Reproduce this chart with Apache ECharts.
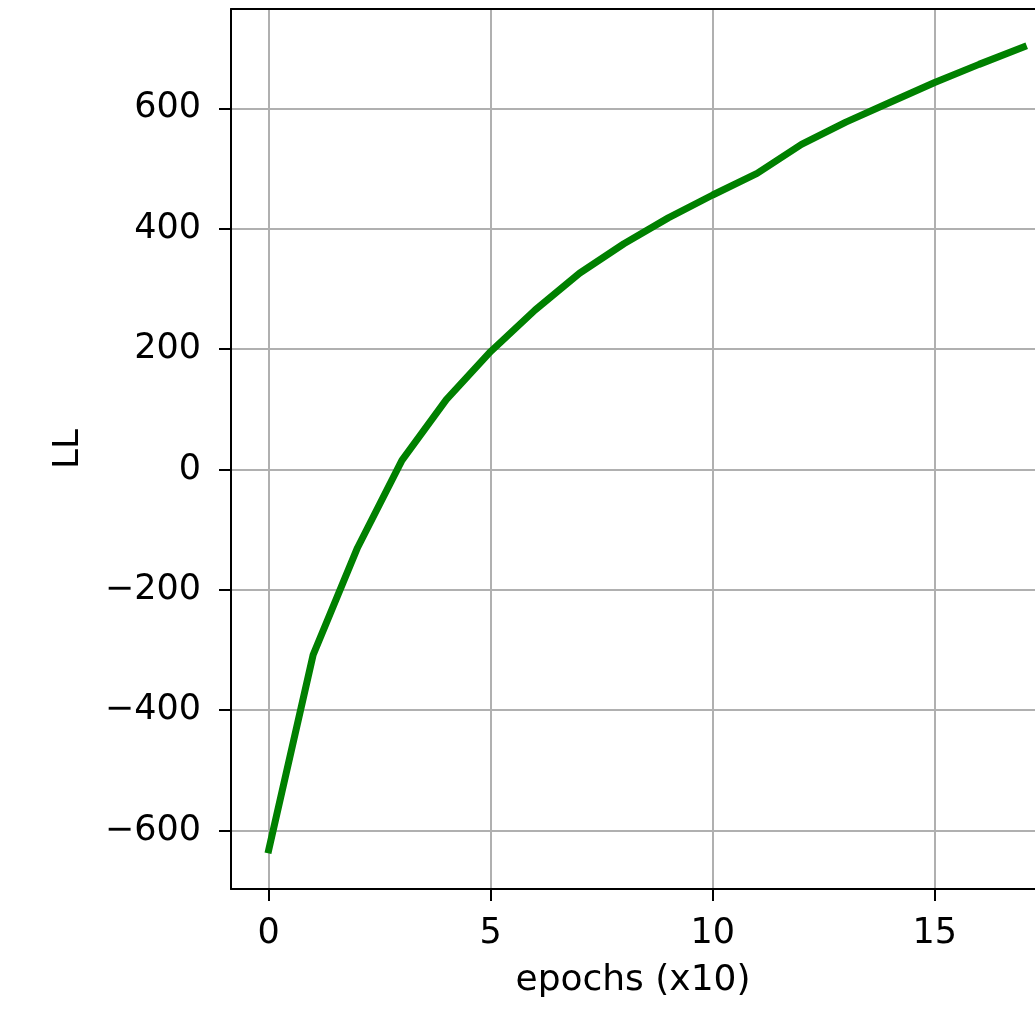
<!DOCTYPE html>
<html>
<head>
<meta charset="utf-8">
<script src="https://cdn.jsdelivr.net/npm/echarts@6/dist/echarts.min.js"></script>
<style>
  html, body { margin: 0; padding: 0; background: #fff; }
  #llChart { width: 1035px; height: 1014px; }
</style>
</head>
<body>
<div id="llChart"></div>
<script>
// log likelihood per epoch (x10)
var epochs = [0, 1, 2, 3, 4, 5, 6, 7, 8, 9, 10, 11, 12, 13, 14, 15, 16, 17];
var llValues = [-632, -308, -130, 15, 116, 196, 265, 326, 375, 418, 456, 492, 540, 577, 610, 643, 673, 702];
var xTicks = [0, 5, 10, 15];
var yTicks = [-600, -400, -200, 0, 200, 400, 600];

var myChart = echarts.init(document.getElementById('llChart'));

var textStyle = {
    fontFamily: 'DejaVu Sans',
    fontSize: 35,
    color: '#000'
};
var nameStyle = Object.assign({}, textStyle, { fontSize: 36 });
var spine = { show: true, onZero: false, lineStyle: { color: '#000', width: 2 } };

// the plot is cut off on the right, so the x range ends at the canvas edge
var xMin = -0.85, xMax = 17.26;

var option = {
    animation: false,
    grid: {
        left: 231,
        top: 9,
        bottom: 125,
        right: 0,
        outerBoundsMode: 'none',
        containLabel: false
    },
    xAxis: [
        {
            type: 'value',
            min: xMin,
            max: xMax,
            name: 'epochs (x10)',
            nameLocation: 'middle',
            nameGap: 74,
            nameMoveOverlap: false,
            nameTextStyle: nameStyle,
            axisLine: spine,
            axisTick: { show: true, length: 12, customValues: xTicks, lineStyle: { color: '#000', width: 2 } },
            axisLabel: Object.assign({ margin: 27, customValues: xTicks }, textStyle),
            splitLine: { show: true, lineStyle: { color: '#b0b0b0', width: 2 } }
        },
        {
            // top spine only
            type: 'value',
            position: 'top',
            min: xMin,
            max: xMax,
            axisLine: spine,
            axisTick: { show: false },
            axisLabel: { show: false },
            splitLine: { show: false }
        }
    ],
    yAxis: {
        type: 'value',
        min: -697,
        max: 765,
        name: 'LL',
        nameLocation: 'middle',
        nameGap: 144,
        nameRotate: 90,
        nameMoveOverlap: false,
        nameTextStyle: nameStyle,
        axisLine: spine,
        axisTick: { show: true, length: 12, customValues: yTicks, lineStyle: { color: '#000', width: 2 } },
        axisLabel: Object.assign({
            margin: 30,
            customValues: yTicks,
            formatter: function (v) { return v < 0 ? '\u2212' + Math.abs(v) : String(v); }
        }, textStyle),
        splitLine: { show: true, lineStyle: { color: '#b0b0b0', width: 2 } }
    },
    series: [
        {
            type: 'line',
            xAxisIndex: 0,
            data: epochs.map(function (e, i) { return [e, llValues[i]]; }),
            showSymbol: false,
            lineStyle: { color: '#008000', width: 7, cap: 'square' },
            itemStyle: { color: '#008000' }
        }
    ]
};
myChart.setOption(option);
</script>
</body>
</html>
